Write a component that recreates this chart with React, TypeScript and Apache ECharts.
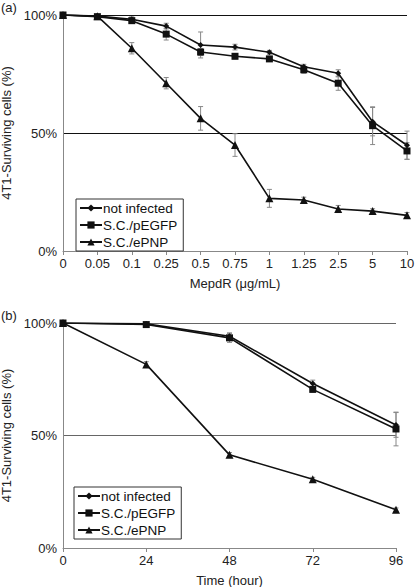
import React, { useEffect, useRef } from "react";
import * as echarts from "echarts";

const seriesNames = ["not infected", "S.C./pEGFP", "S.C./ePNP"];

const catsA = ["0", "0.05", "0.1", "0.25", "0.5", "0.75", "1", "1.25", "2.5", "5", "10"];
const notInfectedA = [100, 99.6, 98.2, 95.3, 87.3, 86.4, 84.2, 78.1, 75.3, 54.8, 44.8];
const pegfpA = [100, 99.3, 97.6, 91.9, 84.3, 82.5, 81.4, 76.8, 71.1, 53.1, 42.4];
const epnpA = [100, 99.5, 85.9, 71.1, 56.2, 44.9, 22.3, 21.6, 17.8, 16.9, 15.1];
const errNotInfectedA = [0, 0.5, 1, 1.2, 5.5, 1.2, 0.8, 1, 1.5, 6, 6];
const errPegfpA = [0, 0.5, 1, 2.5, 1.5, 1, 1, 1.5, 3, 8, 3.5];
const errEpnpA = [0, 0.5, 2.4, 2.4, 5, 4.8, 3.8, 1.2, 1.5, 1, 1.2];

const timesB = [0, 24, 48, 72, 96];
const notInfectedB = [100, 99.6, 94.1, 73.1, 54.7];
const pegfpB = [100, 99.3, 93.4, 70.5, 52.9];
const epnpB = [100, 81.6, 41.4, 30.6, 17.0];
const errNotInfectedB = [0, 0.5, 1.5, 1.5, 5.5];
const errPegfpB = [0, 0.5, 2, 1.2, 7.5];
const errEpnpB = [0, 1.2, 1, 0.8, 0.8];

const yTicks = [0, 50, 100];

const FONT = "'Liberation Sans', Arial, Helvetica, sans-serif";
const symbols = ["diamond", "rect", "triangle"];
const symbolSizes = [6, 7, 8];

function errData(xs: number[], vals: number[], errs: number[]) {
  const out: number[][] = [];
  vals.forEach((v, i) => {
    if (errs[i] > 0) out.push([xs[i], v - errs[i], v + errs[i]]);
  });
  return out;
}

function errSeries(idx: number, data: number[][]) {
  return {
    type: "custom",
    xAxisIndex: idx,
    yAxisIndex: idx,
    z: 1,
    silent: true,
    encode: { x: 0, y: [1, 2] },
    data,
    renderItem: (params: any, api: any) => {
      const x = api.value(0);
      const p1 = api.coord([x, api.value(1)]);
      const p2 = api.coord([x, api.value(2)]);
      const w = 2.5;
      const st = { stroke: "#888", lineWidth: 1 };
      return {
        type: "group",
        children: [
          { type: "line", shape: { x1: p1[0], y1: p1[1], x2: p2[0], y2: p2[1] }, style: st },
          { type: "line", shape: { x1: p1[0] - w, y1: p1[1], x2: p1[0] + w, y2: p1[1] }, style: st },
          { type: "line", shape: { x1: p2[0] - w, y1: p2[1], x2: p2[0] + w, y2: p2[1] }, style: st },
        ],
      };
    },
  };
}

function lineSeries(idx: number, k: number, data: any[]) {
  return {
    type: "line",
    name: seriesNames[k],
    xAxisIndex: idx,
    yAxisIndex: idx,
    z: 3,
    data,
    symbol: symbols[k],
    symbolSize: symbolSizes[k],
    showSymbol: true,
    lineStyle: { color: "#111", width: 1.6 },
    itemStyle: { color: "#111" },
  };
}

export default function App() {
  const ref = useRef<HTMLDivElement>(null);
  useEffect(() => {
    if (!ref.current) return;
    const chart = echarts.init(ref.current, null, { renderer: "svg" });
    const idxA = catsA.map((_, i) => i);
    const axisLineStyle = { color: "#888", width: 1 };
    const yAxisCommon = (gridLineColor: string) => ({
      type: "value",
      min: 0,
      max: 100,
      interval: 50,
      name: "4T1-Surviving cells (%)",
      nameLocation: "middle",
      nameRotate: 90,
      nameGap: 45,
      nameTextStyle: { fontSize: 13, color: "#222", fontFamily: FONT },
      axisLine: { show: true, lineStyle: axisLineStyle },
      axisTick: { show: false },
      axisLabel: {
        formatter: (v: number) => (yTicks.includes(v) ? v + "%" : ""),
        fontSize: 13,
        color: "#222",
        fontFamily: FONT,
        margin: 6,
      },
      splitLine: {
        show: true,
        lineStyle: { color: ["transparent", gridLineColor, gridLineColor], width: 1 },
      },
    });
    const legendCommon = {
      orient: "vertical",
      itemWidth: 22,
      itemHeight: 9,
      itemGap: 3,
      padding: [2, 6, 2, 3],
      borderColor: "#333",
      borderWidth: 1,
      backgroundColor: "#fff",
      textStyle: { fontSize: 13.5, color: "#111", fontFamily: FONT, padding: [0, 0, 0, -4] },
      data: seriesNames,
    };
    chart.setOption({
      animation: false,
      backgroundColor: "#fff",
      textStyle: { fontFamily: FONT },
      graphic: [
        { type: "text", left: 1, top: 1, style: { text: "(a)", fontSize: 13, fill: "#222", fontFamily: FONT } },
        { type: "text", left: 1, top: 309, style: { text: "(b)", fontSize: 13, fill: "#222", fontFamily: FONT } },
      ],
      legend: [
        { ...legendCommon, left: 76, top: 199 },
        { ...legendCommon, left: 74, top: 487 },
      ],
      grid: [
        { left: 63, right: 9, top: 15, height: 236, containLabel: false, outerBoundsMode: "none" },
        { left: 63, right: 20, top: 323, height: 225, containLabel: false, outerBoundsMode: "none" },
      ],
      xAxis: [
        {
          type: "category",
          gridIndex: 0,
          data: catsA,
          boundaryGap: false,
          name: "MepdR (μg/mL)",
          nameLocation: "middle",
          nameGap: 26,
          nameTextStyle: { fontSize: 13, color: "#222", fontFamily: FONT },
          axisLine: { lineStyle: axisLineStyle },
          axisTick: { show: true, length: 4, lineStyle: { color: "#888" } },
          axisLabel: { fontSize: 13, color: "#222", fontFamily: FONT, margin: 6, interval: 0 },
          splitLine: { show: false },
        },
        {
          type: "value",
          gridIndex: 1,
          min: 0,
          max: 96,
          interval: 24,
          name: "Time (hour)",
          nameLocation: "middle",
          nameGap: 26,
          nameTextStyle: { fontSize: 13, color: "#222", fontFamily: FONT },
          axisLine: { lineStyle: axisLineStyle },
          axisTick: { show: true, length: 4, lineStyle: { color: "#888" } },
          axisLabel: { fontSize: 13, color: "#222", fontFamily: FONT, margin: 6 },
          splitLine: { show: false },
        },
      ],
      yAxis: [
        { ...yAxisCommon("#111"), gridIndex: 0 },
        { ...yAxisCommon("#666"), gridIndex: 1 },
      ],
      series: [
        errSeries(0, errData(idxA, notInfectedA, errNotInfectedA)),
        errSeries(0, errData(idxA, pegfpA, errPegfpA)),
        errSeries(0, errData(idxA, epnpA, errEpnpA)),
        lineSeries(0, 0, notInfectedA),
        lineSeries(0, 1, pegfpA),
        lineSeries(0, 2, epnpA),
        errSeries(1, errData(timesB, notInfectedB, errNotInfectedB)),
        errSeries(1, errData(timesB, pegfpB, errPegfpB)),
        errSeries(1, errData(timesB, epnpB, errEpnpB)),
        lineSeries(1, 0, timesB.map((t, i) => [t, notInfectedB[i]])),
        lineSeries(1, 1, timesB.map((t, i) => [t, pegfpB[i]])),
        lineSeries(1, 2, timesB.map((t, i) => [t, epnpB[i]])),
      ],
    });
    return () => chart.dispose();
  }, []);
  return (
    <div
      ref={ref}
      style={{ position: "fixed", left: 0, top: 0, width: 416, height: 587, background: "#fff" }}
    />
  );
}
